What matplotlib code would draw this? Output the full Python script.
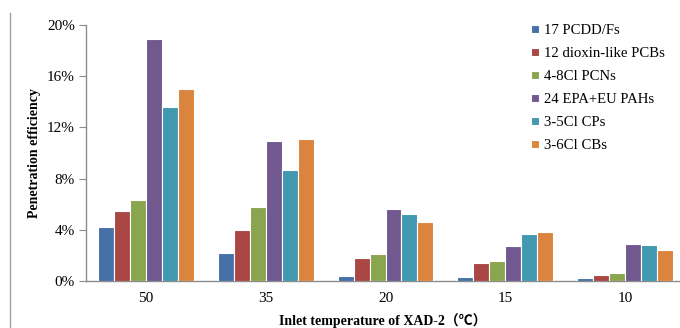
import numpy as np
import matplotlib.pyplot as plt
from matplotlib.lines import Line2D
from matplotlib.ticker import FuncFormatter

# inlet temperatures (categories) and penetration efficiency (%) per compound group
temps = ['50', '35', '20', '15', '10']
series = ['17 PCDD/Fs', '12 dioxin-like PCBs', '4-8Cl PCNs',
          '24 EPA+EU PAHs', '3-5Cl CPs', '3-6Cl CBs']
pcdd = [4.25, 2.2, 0.4, 0.3, 0.2]
pcb = [5.5, 4.0, 1.8, 1.4, 0.45]
pcn = [6.3, 5.8, 2.1, 1.6, 0.6]
pah = [18.9, 10.9, 5.6, 2.7, 2.9]
cp = [13.6, 8.7, 5.2, 3.7, 2.8]
cb = [15.0, 11.1, 4.6, 3.8, 2.45]
values = [pcdd, pcb, pcn, pah, cp, cb]
colors = ['#4671A8', '#AA4644', '#89A54E', '#71588F', '#4198AF', '#DB843D']

serif = ['Liberation Serif', 'Noto Sans CJK SC']

fig = plt.figure(figsize=(6.8, 3.28), dpi=100)
ax = fig.add_axes([0.1265, 0.1433, 0.8735, 0.7805])

x = np.arange(len(temps))
w = 0.8 / len(series)
for i, (name, vals) in enumerate(zip(series, values)):
    ax.bar(x - 0.4 + w * (i + 0.5), vals, width=w, color=colors[i],
           edgecolor='white', linewidth=0.8, label=name, zorder=3)

ax.set_xlim(-0.5, 4.458)
ax.set_ylim(0, 20)
ax.set_yticks(np.arange(0, 21, 4))
ax.yaxis.set_major_formatter(FuncFormatter(lambda v, p: f'{v:.0f}%'))
ax.set_xticks(x)
ax.set_xticklabels(temps)

for s in ['top', 'right']:
    ax.spines[s].set_visible(False)
for s in ['left', 'bottom']:
    ax.spines[s].set_color('#8C8C8C')
    ax.spines[s].set_linewidth(1.0)
ax.tick_params(axis='y', direction='out', length=5, color='#8C8C8C', labelsize=11, pad=3)
ax.tick_params(axis='x', length=0, labelsize=11, pad=8)
for lab in ax.get_xticklabels() + ax.get_yticklabels():
    lab.set_family(serif)

ax.set_ylabel('Penetration efficiency', fontsize=10, fontweight='bold', family=serif, labelpad=4)
ax.set_xlabel('Inlet temperature of XAD-2（℃）', fontsize=10, fontweight='bold', family=serif, labelpad=6)

leg = ax.legend(loc='upper left', bbox_to_anchor=(0.727, 1.055), frameon=False,
                prop={'family': serif, 'size': 10.6}, handlelength=0.55, handleheight=0.55,
                handletextpad=0.35, labelspacing=0.68)

# thin grey frame line at left edge of picture
fig.add_artist(Line2D([0.0147, 0.0147], [0.0, 0.96], transform=fig.transFigure,
                      color='#A0A0A0', linewidth=1.0))

fig.savefig('out.png', dpi=100)
